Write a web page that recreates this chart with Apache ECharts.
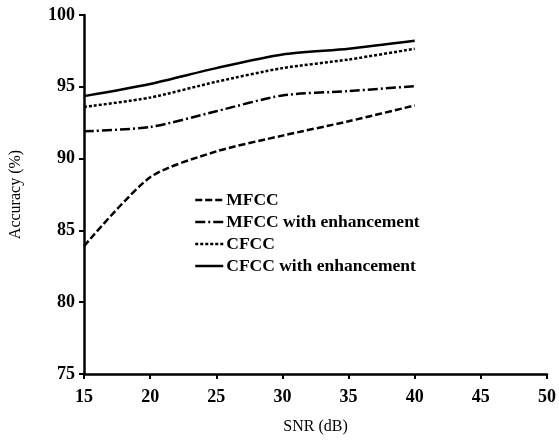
<!DOCTYPE html>
<html>
<head>
<meta charset="utf-8">
<script src="https://cdn.jsdelivr.net/npm/echarts@6/dist/echarts.min.js"></script>
<style>
    html, body { margin: 0; padding: 0; background: #fff; }
    #main { width: 559px; height: 445px; }
</style>
</head>
<body>
<div id="main"></div>
<script>
// SNR values (x axis)
var snr = [15, 20, 25, 30, 35, 40];
// accuracy (%)
var mfcc = [83.9, 88.7, 90.5, 91.6, 92.6, 93.7];
var mfccEnh = [91.9, 92.2, 93.3, 94.4, 94.7, 95.05];
var cfcc = [93.6, 94.25, 95.35, 96.3, 96.9, 97.65];
var cfccEnh = [94.35, 95.2, 96.3, 97.25, 97.65, 98.2];
var names = ['MFCC', 'MFCC with enhancement', 'CFCC', 'CFCC with enhancement'];
// dash patterns, same order as names
var dashes = [[7, 3], [10, 3, 2, 3], [3, 2], 'solid'];

function pairs(ys) {
    return snr.map(function (x, i) { return [x, ys[i]]; });
}

var font = 'Liberation Serif, Times New Roman, serif';

function makeLine(name, ys, dash) {
    return {
        name: name,
        type: 'line',
        symbol: 'none',
        smooth: 0.25,
        data: pairs(ys),
        lineStyle: { color: '#000', width: 2.5, type: dash },
        itemStyle: { color: '#000' }
    };
}

const myChart = echarts.init(document.getElementById('main'));
let option = {
    animation: false,
    backgroundColor: '#fff',
    textStyle: { fontFamily: font, color: '#000' },
    grid: { left: 82, right: 11, top: 15, bottom: 71, containLabel: false },
    legend: {
        data: names.map(function (n, i) {
            return { name: n, lineStyle: { type: dashes[i], width: 2.5, color: '#000' } };
        }),
        orient: 'vertical',
        left: 189,
        top: 186,
        itemWidth: 28,
        itemHeight: 10,
        itemGap: 4,
        itemStyle: { opacity: 0 },
        textStyle: { fontFamily: font, fontSize: 17.5, fontWeight: 'bold', color: '#000', padding: [0, 0, 0, -2] }
    },
    xAxis: {
        type: 'value',
        min: 15,
        max: 50,
        interval: 5,
        name: 'SNR (dB)',
        nameLocation: 'middle',
        nameGap: 45,
        nameTextStyle: { fontFamily: font, fontSize: 16, color: '#000' },
        axisLine: { show: true, lineStyle: { color: '#000', width: 2.5 } },
        axisTick: { show: true, length: 5, lineStyle: { color: '#000', width: 2 } },
        axisLabel: { fontFamily: font, fontSize: 18, fontWeight: 'bold', color: '#000', margin: 14 },
        splitLine: { show: false }
    },
    yAxis: {
        type: 'value',
        min: 75,
        max: 100,
        interval: 5,
        name: 'Accuracy (%)',
        nameLocation: 'middle',
        nameGap: 60,
        nameTextStyle: { fontFamily: font, fontSize: 16, color: '#000' },
        axisLine: { show: true, lineStyle: { color: '#000', width: 2.5 } },
        axisTick: { show: true, length: 5, lineStyle: { color: '#000', width: 2 } },
        axisLabel: { fontFamily: font, fontSize: 18, fontWeight: 'bold', color: '#000', margin: 9 },
        splitLine: { show: false }
    },
    series: names.map(function (n, i) {
        return makeLine(n, [mfcc, mfccEnh, cfcc, cfccEnh][i], dashes[i]);
    })
};
option && myChart.setOption(option);
</script>
</body>
</html>
